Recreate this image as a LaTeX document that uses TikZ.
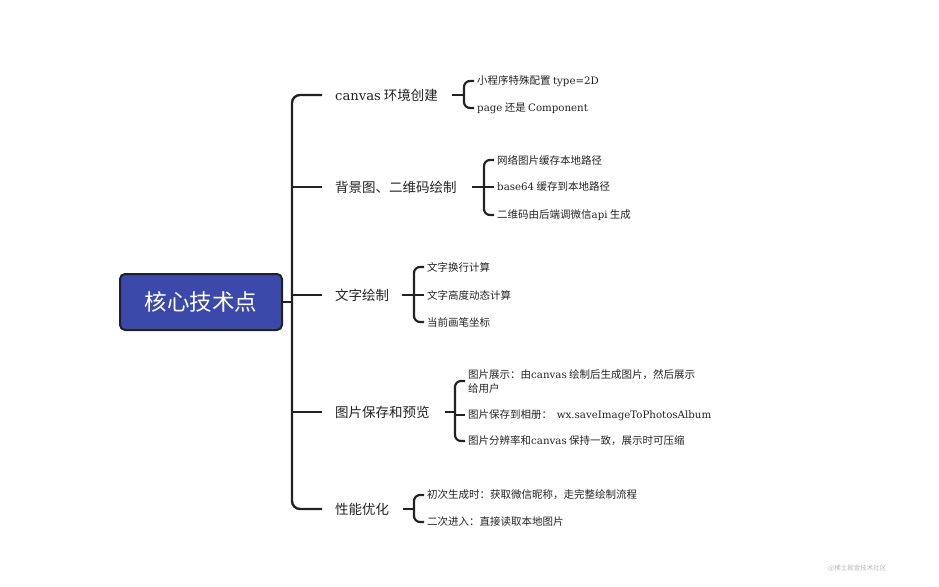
\documentclass[tikz,border=0pt]{standalone}
\usepackage{fontspec}
\setmainfont{Noto Sans CJK SC}
\newfontfamily\lat[Scale=0.975]{DejaVu Serif}
\definecolor{rootblue}{HTML}{3A49AA}
\definecolor{ink}{HTML}{222222}

\begin{document}
\begin{tikzpicture}[x=1pt,y=1pt,
        rootbox/.style={draw=ink, line width=2pt, fill=rootblue, rounded corners=5pt,
                        text=white, minimum width=162pt, minimum height=56pt,
                        font=\fontsize{22.5}{26}\selectfont},
        branch/.style={anchor=west, inner sep=0pt, text=ink,
                       font=\fontsize{13.5}{16}\selectfont},
        leaf/.style={anchor=west, inner sep=0pt, text=ink, align=left,
                     font=\fontsize{10.5}{14}\selectfont},
        trunk/.style={draw=ink, line width=2.4pt, rounded corners=8pt},
        brace/.style={draw=ink, line width=2.2pt, rounded corners=6pt}]

            \useasboundingbox (0,0) rectangle (939,-586);

            \node[rootbox] (root) at (201,-302) {核心技术点};
            \coordinate (t) at (292,-302);

            \node[branch] (b1) at (335,-95) {{\lat canvas} 环境创建};
            \node[branch] (b2) at (335,-187) {背景图、二维码绘制};
            \node[branch] (b3) at (335,-295) {文字绘制};
            \node[branch] (b4) at (335,-412) {图片保存和预览};
            \node[branch] (b5) at (335,-509) {性能优化};

            \begin{scope}[every node/.style={leaf}]
                \node (l11) at (477,-81) {小程序特殊配置 {\lat type=2D}};
                \node (l12) at (477,-108) {{\lat page} 还是 {\lat Component}};

                \node (l21) at (497,-160) {网络图片缓存本地路径};
                \node (l22) at (497,-187) {{\lat base64} 缓存到本地路径};
                \node (l23) at (497,-215) {二维码由后端调微信{\lat api} 生成};

                \node (l31) at (427,-267) {文字换行计算};
                \node (l32) at (427,-295) {文字高度动态计算};
                \node (l33) at (427,-322) {当前画笔坐标};

                \node (l41) at (468,-381) {图片展示：由{\lat canvas} 绘制后生成图片，然后展示\\给用户};
                \node (l42) at (468,-415) {图片保存到相册：\ \ {\lat wx.saveImageToPhotosAlbum}};
                \node (l43) at (468,-441) {图片分辨率和{\lat canvas} 保持一致，展示时可压缩};

                \node (l51) at (427,-495) {初次生成时：获取微信昵称，走完整绘制流程};
                \node (l52) at (427,-522) {二次进入：直接读取本地图片};
            \end{scope}

            % trunk
            \draw[trunk] (root.east) -- (t);
            \draw[trunk] ([xshift=-13pt]b1.west) -- (b1.west -| t) -- (b5.west -| t) -- ([xshift=-13pt]b5.west);
            \draw[trunk] (b2.west -| t) -- ([xshift=-13pt]b2.west);
            \draw[trunk] (b3.west -| t) -- ([xshift=-13pt]b3.west);
            \draw[trunk] (b4.west -| t) -- ([xshift=-13pt]b4.west);

            % brackets
            \draw[brace] ([xshift=14pt]b1.east) -- ([xshift=-13pt]l11.west |- b1.east);
            \draw[brace] ([xshift=-3pt]l11.west) -- ([xshift=-13pt]l11.west) -- ([xshift=-13pt]l12.west) -- ([xshift=-3pt]l12.west);

            \draw[brace] ([xshift=15pt]b2.east) -- ([xshift=-3pt]l22.west);
            \draw[brace] ([xshift=-3pt]l21.west) -- ([xshift=-13pt]l21.west) -- ([xshift=-13pt]l23.west) -- ([xshift=-3pt]l23.west);

            \draw[brace] ([xshift=13pt]b3.east) -- ([xshift=-3pt]l32.west);
            \draw[brace] ([xshift=-3pt]l31.west) -- ([xshift=-13pt]l31.west) -- ([xshift=-13pt]l33.west) -- ([xshift=-3pt]l33.west);

            \draw[brace] ([xshift=15pt]b4.east) -- ([xshift=-13pt]l42.west |- b4.east);
            \draw[brace] ([xshift=-13pt]l42.west) -- ([xshift=-3pt]l42.west);
            \draw[brace] ([xshift=-3pt]l41.west) -- ([xshift=-13pt]l41.west) -- ([xshift=-13pt]l43.west) -- ([xshift=-3pt]l43.west);

            \draw[brace] ([xshift=14pt]b5.east) -- ([xshift=-13pt]l51.west |- b5.east);
            \draw[brace] ([xshift=-3pt]l51.west) -- ([xshift=-13pt]l51.west) -- ([xshift=-13pt]l52.west) -- ([xshift=-3pt]l52.west);

            \node[anchor=west, inner sep=0pt, text=black!28, font=\fontsize{6.5}{8}\selectfont] (mark) at (828,-568) {@稀土掘金技术社区};

        \end{tikzpicture}
\end{document}
